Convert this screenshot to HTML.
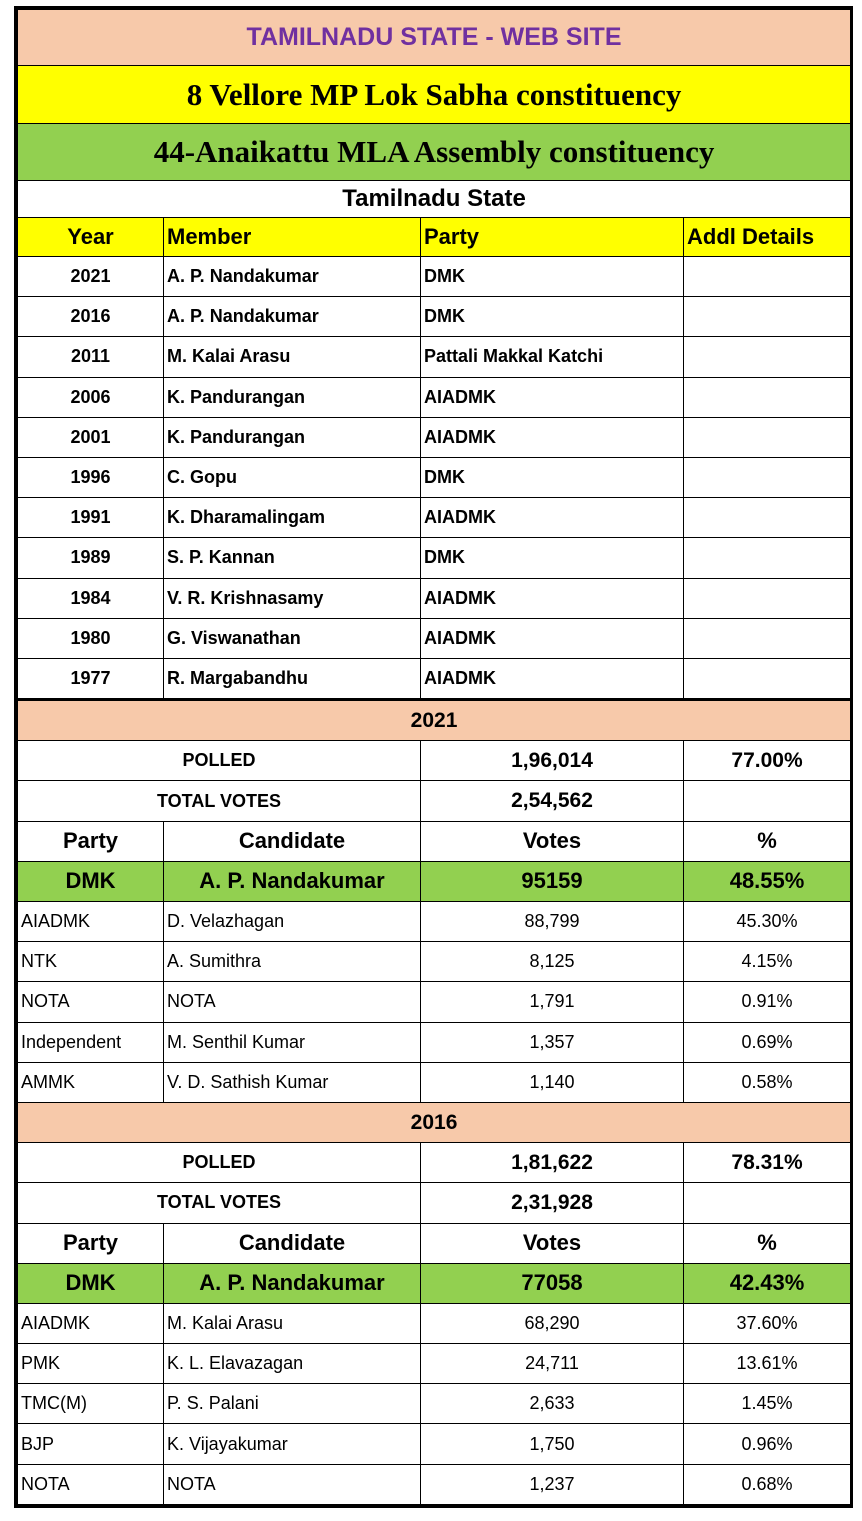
<!DOCTYPE html>
<html><head><meta charset="utf-8"><style>
html,body{margin:0;padding:0;background:#fff;}
body{width:862px;height:1521px;position:relative;}
.wrap{position:absolute;left:14px;top:6px;width:833px;border:3px solid #000;}
table{border-collapse:collapse;table-layout:fixed;width:833px;font-family:"Liberation Sans",sans-serif;}
td{border:1.5px solid #000;padding:0 3px;overflow:hidden;white-space:nowrap;font-size:18px;color:#000;}
.c{text-align:center}
.b{font-weight:bold}
.pe{background:#f7c9aa}
.ye{background:#ffff00}
.gr{background:#92d050}
.t1{color:#7030a0;font-weight:bold;font-size:25px;text-align:center}
.t2{font-family:"Liberation Serif",serif;font-weight:bold;font-size:31px;text-align:center}
td.h{font-size:22px;font-weight:bold}
.thick td{border-top:3px solid #000}
.d td{font-size:18px;height:39.2px}
.d td.h{font-size:22px}
.dm td{font-size:22px;font-weight:bold}
.d td.big{font-size:21px}
</style></head><body>
<div class="wrap"><table>
<colgroup><col style="width:146px"><col style="width:257px"><col style="width:263px"><col style="width:167px"></colgroup>
<tr style="height:56px" class="pe"><td colspan="4" class="t1">TAMILNADU STATE - WEB SITE</td></tr>
<tr style="height:58px" class="ye"><td colspan="4" class="t2">8 Vellore MP Lok Sabha constituency</td></tr>
<tr style="height:57px" class="gr"><td colspan="4" class="t2">44-Anaikattu MLA Assembly constituency</td></tr>
<tr style="height:37px"><td colspan="4" class="c h" style="font-size:24px">Tamilnadu State</td></tr>
<tr style="height:39px" class="ye"><td class="c h">Year</td><td class="h">Member</td><td class="h">Party</td><td class="h">Addl Details</td></tr>
<tr class="d b"><td class="c">2021</td><td>A. P. Nandakumar</td><td>DMK</td><td></td></tr>
<tr class="d b"><td class="c">2016</td><td>A. P. Nandakumar</td><td>DMK</td><td></td></tr>
<tr class="d b"><td class="c">2011</td><td>M. Kalai Arasu</td><td>Pattali Makkal Katchi</td><td></td></tr>
<tr class="d b"><td class="c">2006</td><td>K. Pandurangan</td><td>AIADMK</td><td></td></tr>
<tr class="d b"><td class="c">2001</td><td>K. Pandurangan</td><td>AIADMK</td><td></td></tr>
<tr class="d b"><td class="c">1996</td><td>C. Gopu</td><td>DMK</td><td></td></tr>
<tr class="d b"><td class="c">1991</td><td>K. Dharamalingam</td><td>AIADMK</td><td></td></tr>
<tr class="d b"><td class="c">1989</td><td>S. P. Kannan</td><td>DMK</td><td></td></tr>
<tr class="d b"><td class="c">1984</td><td>V. R. Krishnasamy</td><td>AIADMK</td><td></td></tr>
<tr class="d b"><td class="c">1980</td><td>G. Viswanathan</td><td>AIADMK</td><td></td></tr>
<tr class="d b"><td class="c">1977</td><td>R. Margabandhu</td><td>AIADMK</td><td></td></tr>
<tr class="d thick pe"><td colspan="4" class="c b big">2021</td></tr>
<tr class="d b"><td colspan="2" class="c">POLLED</td><td class="c big">1,96,014</td><td class="c big">77.00%</td></tr>
<tr class="d b"><td colspan="2" class="c">TOTAL VOTES</td><td class="c big">2,54,562</td><td></td></tr>
<tr class="d"><td class="c h">Party</td><td class="c h">Candidate</td><td class="c h">Votes</td><td class="c h">%</td></tr>
<tr class="d dm gr"><td class="c">DMK</td><td class="c">A. P. Nandakumar</td><td class="c">95159</td><td class="c">48.55%</td></tr>
<tr class="d"><td>AIADMK</td><td>D. Velazhagan</td><td class="c">88,799</td><td class="c">45.30%</td></tr>
<tr class="d"><td>NTK</td><td>A. Sumithra</td><td class="c">8,125</td><td class="c">4.15%</td></tr>
<tr class="d"><td>NOTA</td><td>NOTA</td><td class="c">1,791</td><td class="c">0.91%</td></tr>
<tr class="d"><td>Independent</td><td>M. Senthil Kumar</td><td class="c">1,357</td><td class="c">0.69%</td></tr>
<tr class="d"><td>AMMK</td><td>V. D. Sathish Kumar</td><td class="c">1,140</td><td class="c">0.58%</td></tr>
<tr class="d pe"><td colspan="4" class="c b big">2016</td></tr>
<tr class="d b"><td colspan="2" class="c">POLLED</td><td class="c big">1,81,622</td><td class="c big">78.31%</td></tr>
<tr class="d b"><td colspan="2" class="c">TOTAL VOTES</td><td class="c big">2,31,928</td><td></td></tr>
<tr class="d"><td class="c h">Party</td><td class="c h">Candidate</td><td class="c h">Votes</td><td class="c h">%</td></tr>
<tr class="d dm gr"><td class="c">DMK</td><td class="c">A. P. Nandakumar</td><td class="c">77058</td><td class="c">42.43%</td></tr>
<tr class="d"><td>AIADMK</td><td>M. Kalai Arasu</td><td class="c">68,290</td><td class="c">37.60%</td></tr>
<tr class="d"><td>PMK</td><td>K. L. Elavazagan</td><td class="c">24,711</td><td class="c">13.61%</td></tr>
<tr class="d"><td>TMC(M)</td><td>P. S. Palani</td><td class="c">2,633</td><td class="c">1.45%</td></tr>
<tr class="d"><td>BJP</td><td>K. Vijayakumar</td><td class="c">1,750</td><td class="c">0.96%</td></tr>
<tr class="d"><td>NOTA</td><td>NOTA</td><td class="c">1,237</td><td class="c">0.68%</td></tr>
</table></div>
</body></html>
